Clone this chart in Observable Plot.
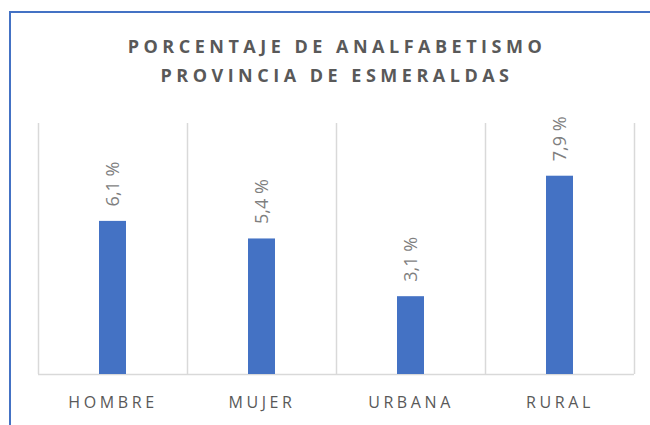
<!DOCTYPE html>
<html>
<head>
<meta charset="utf-8">
<script src="https://cdn.jsdelivr.net/npm/d3@7"></script>
<script src="https://cdn.jsdelivr.net/npm/@observablehq/plot@0.6"></script>
<style>
  html, body { margin: 0; padding: 0; background: #fff; }
  #wrap { position: relative; width: 650px; height: 425px; overflow: hidden; }
  #frame { position: absolute; left: 9px; top: 11px; width: 700px; height: 500px;
           border-left: 2px solid #4472C4; border-top: 2px solid #4472C4; }
  #title { position: absolute; left: 0; width: 674px; top: 32px; text-align: center;
           font-family: "Open Sans", sans-serif; font-weight: bold; font-size: 18px;
           letter-spacing: 4.5px; color: #595959; line-height: 29px; }
  #chart { position: absolute; left: 0; top: 0; }
  #chart svg g[aria-label="x-axis tick label"] text { letter-spacing: 3.6px; }
</style>
</head>
<body>
<div id="wrap">
  <div id="frame"></div>
  <div id="chart"></div>
  <div id="title">PORCENTAJE DE ANALFABETISMO<br>PROVINCIA DE ESMERALDAS</div>
</div>
<script>
const categories = ["HOMBRE", "MUJER", "URBANA", "RURAL"];
const values = [6.1, 5.4, 3.1, 7.9];
const valueLabels = ["6,1 %", "5,4 %", "3,1 %", "7,9 %"];

const data = categories.map((c, i) => ({cat: c, value: values[i], label: valueLabels[i]}));

const W = 650, ML = 38, MR = 16;
const step = (W - ML - MR) / categories.length;

const chart = Plot.plot({
  width: W,
  height: 425,
  marginLeft: ML,
  marginRight: MR,
  marginTop: 123,
  marginBottom: 51,
  style: {background: "transparent", fontFamily: "Open Sans, sans-serif"},
  x: {domain: categories, paddingInner: 0.82, paddingOuter: 0.41, label: null},
  y: {domain: [0, 10], axis: null},
  marks: [
    Plot.ruleX(categories, {x: d => d, y1: 0, y2: 10, dx: -step / 2, stroke: "#d9d9d9", strokeWidth: 1.5}),
    Plot.ruleX(categories.slice(-1), {x: d => d, y1: 0, y2: 10, dx: step / 2, stroke: "#d9d9d9", strokeWidth: 1.5}),
    Plot.ruleY([0], {stroke: "#d9d9d9", strokeWidth: 1.5}),
    Plot.barY(data, {x: "cat", y: "value", fill: "#4472C4"}),
    Plot.text(data, {x: "cat", y: "value", text: "label", rotate: -90,
      textAnchor: "start", lineAnchor: "middle", dy: -15,
      fill: "#7f7f7f", fontSize: 18}),
    Plot.axisX({tickSize: 0, tickPadding: 22, fontSize: 16, fill: "#595959"})
  ]
});
document.getElementById("chart").appendChild(chart);
</script>
</body>
</html>
